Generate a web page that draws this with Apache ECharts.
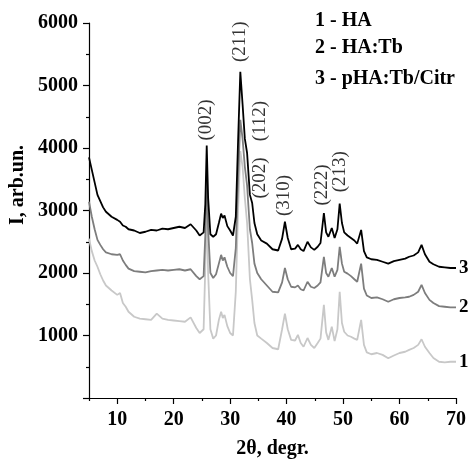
<!DOCTYPE html>
<html>
<head>
<meta charset="utf-8">
<script src="https://cdn.jsdelivr.net/npm/echarts@6/dist/echarts.min.js"></script>
<style>
html,body{margin:0;padding:0;background:#fff;}
#chart{width:469px;height:459px;}
</style>
</head>
<body>
<div id="chart"></div>
<script>
// 2θ positions (degrees)
const twoTheta = [5,5.5,6,6.5,7,7.5,8,9,10,10.5,11,11.5,12,13,14,15,16,17,18,19,20,21,22,23,24,24.6,25.3,25.6,25.85,26.1,26.5,27,27.5,28,28.4,28.7,29,29.5,30,30.5,31,31.4,31.8,32.2,32.6,33,33.5,33.9,34.3,34.8,35.5,36.5,37.5,38.5,39.2,39.7,40.2,40.8,41.5,42,42.5,43,43.7,44.3,44.9,45.5,46,46.6,47,47.4,48,48.5,49,49.4,49.8,50.2,50.8,51.4,52,52.5,53.2,53.7,54.2,55,56,57,58,59,60,61,61.7,62.5,63.3,63.9,64.5,65.3,66,67,68,69,70];

// 1 - HA (light gray)
const seriesHA = [2550,2350,2200,2100,1980,1880,1800,1720,1650,1680,1520,1460,1380,1300,1270,1260,1250,1350,1270,1250,1240,1230,1220,1290,1120,1040,1100,2100,3100,2000,1100,950,1000,1250,1380,1280,1330,1150,1040,1000,1700,3000,3950,3700,3200,2800,1900,1570,1200,1000,950,880,800,780,1100,1350,1100,930,920,1010,880,820,960,850,800,880,950,1490,1050,930,1140,910,1100,1700,1200,1060,1000,980,950,930,1250,850,730,700,720,690,635,680,720,740,770,800,850,940,820,720,640,580,570,580,580];

// 2 - HA:Tb (dark gray)
const seriesHATb = [3140,2900,2700,2530,2450,2380,2330,2300,2290,2300,2200,2130,2070,2030,2020,2010,2030,2040,2050,2040,2050,2060,2040,2060,1950,1900,1950,2600,3550,2700,2000,1920,1980,2150,2290,2200,2250,2100,2000,1950,2400,3500,4450,4150,3700,3400,2700,2480,2150,2000,1900,1800,1700,1690,1850,2080,1900,1780,1770,1800,1740,1720,1860,1780,1760,1800,1850,2260,2000,1940,2080,1940,2050,2420,2150,2020,1990,1950,1900,1860,2150,1750,1640,1600,1610,1580,1540,1580,1600,1610,1620,1650,1700,1810,1680,1570,1520,1470,1460,1450,1450];

// 3 - pHA:Tb/Citr (black)
const seriesPHA = [3850,3650,3450,3250,3150,3050,2980,2900,2850,2820,2760,2740,2700,2680,2640,2660,2690,2680,2710,2700,2720,2740,2720,2780,2680,2600,2650,3100,4040,3200,2620,2580,2620,2800,2950,2880,2920,2750,2680,2600,2900,4100,5220,4700,4150,3920,3250,3120,2800,2620,2520,2470,2380,2360,2550,2820,2560,2380,2390,2450,2380,2350,2500,2410,2370,2420,2480,2960,2650,2580,2720,2560,2700,3110,2800,2650,2600,2560,2520,2470,2690,2350,2250,2220,2210,2180,2150,2190,2210,2230,2260,2280,2330,2450,2300,2180,2140,2100,2090,2080,2080];

const seriesNames = ['1 - HA','2 - HA:Tb','3 - pHA:Tb/Citr'];
const endNumbers = ['1','2','3'];
const seriesColors = ['#c8c8c8','#7d7d7d','#000000'];

// Miller-index annotations
const peakNames = ['(002)','(211)','(112)','(202)','(310)','(222)','(213)'];
const peakX = [25.8,31.8,35.35,35.3,39.6,46.3,49.5];
const peakY = [4450,5700,4430,3520,3240,3410,3620];

const xMajorTicks = [10,20,30,40,50,60,70];
const xMinorTicks = [5,15,25,35,45,55,65];

const FONT = '"Liberation Serif","Times New Roman",serif';

function pairs(ys){ return twoTheta.map((x,i)=>[x,ys[i]]); }
const allY = [seriesHA, seriesHATb, seriesPHA];

const chart = echarts.init(document.getElementById('chart'), null, {renderer:'canvas'});

const lineSeries = allY.map((ys,k)=>({
  name: seriesNames[k],
  type:'line',
  xAxisIndex:0, yAxisIndex:0,
  data: pairs(ys),
  showSymbol:false,
  symbol:'none',
  lineStyle:{color:seriesColors[k], width:1.8},
  itemStyle:{color:seriesColors[k]},
  z: 2+k,
  endLabel:{
    show:true,
    formatter: ()=>endNumbers[k],
    color:'#000',
    fontFamily:FONT,
    fontWeight:'bold',
    fontSize:19,
    distance:3
  },
  animation:false
}));

const peakSeries = {
  type:'scatter',
  xAxisIndex:0, yAxisIndex:0,
  data: peakX.map((x,i)=>({value:[x,peakY[i]], name:peakNames[i]})),
  symbol:'circle',
  symbolSize:1,
  itemStyle:{color:'rgba(0,0,0,0)'},
  z:10,
  label:{
    show:true,
    position:'inside',
    rotate:90,
    formatter: p=>p.name,
    color:'#000',
    fontFamily:FONT,
    fontSize:19,
    align:'center',
    verticalAlign:'middle'
  },
  labelLayout:{hideOverlap:false},
  silent:true,
  animation:false
};

const option = {
  backgroundColor:'#ffffff',
  animation:false,
  grid:{left:89, right:13, top:23, bottom:61, containLabel:false, outerBoundsMode:'none'},
  title: seriesNames.map((n,i)=>({
    text:n,
    left:315,
    top:[11,38,69][i],
    textStyle:{fontFamily:FONT, fontWeight:'bold', fontSize:20, color:'#000'},
    padding:0
  })),
  graphic:[{
    type:'text',
    x:18, y:185,
    rotation:Math.PI/2,
    style:{
      text:'I, arb.un.',
      fontFamily:FONT, fontWeight:'bold', fontSize:20, fill:'#000',
      align:'center', verticalAlign:'middle'
    }
  }],
  xAxis:[{
    type:'value',
    min:5, max:70,
    name:'2θ, degr.',
    nameLocation:'middle',
    nameGap:41,
    nameTextStyle:{fontFamily:FONT, fontWeight:'bold', fontSize:20, color:'#000'},
    axisLine:{show:true, onZero:false, lineStyle:{color:'#000', width:1.2}},
    axisTick:{show:true, inside:false, length:6, lineStyle:{color:'#000', width:1.2}, customValues:xMajorTicks},
    axisLabel:{show:true, margin:12, fontFamily:FONT, fontWeight:'bold', fontSize:20, color:'#000', customValues:xMajorTicks},
    splitLine:{show:false}
  },{
    type:'value',
    min:5, max:70,
    position:'bottom',
    axisLine:{show:false, onZero:false},
    axisTick:{show:true, inside:false, length:3, lineStyle:{color:'#000', width:1.2}, customValues:xMinorTicks},
    axisLabel:{show:false},
    splitLine:{show:false}
  }],
  yAxis:[{
    type:'value',
    min:0, max:6000, interval:1000,
    axisLine:{show:true, onZero:false, lineStyle:{color:'#000', width:1.2}},
    axisTick:{show:true, inside:false, length:6, lineStyle:{color:'#000', width:1.2}},
    minorTick:{show:true, splitNumber:2, length:3, lineStyle:{color:'#000', width:1.2}},
    axisLabel:{show:true, margin:11, fontFamily:FONT, fontWeight:'bold', fontSize:20, color:'#000',
      formatter: v => v === 0 ? '' : String(v)},
    splitLine:{show:false}
  }],
  series: lineSeries.concat([peakSeries])
};

chart.setOption(option);
</script>
</body>
</html>
